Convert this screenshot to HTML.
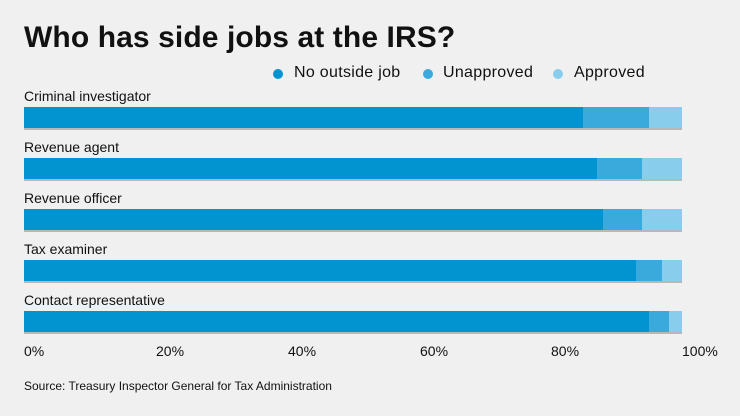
<!DOCTYPE html>
<html><head><style>
body{margin:0;width:740px;height:416px;background:#f0f0f0;font-family:"Liberation Sans",sans-serif;position:relative;overflow:hidden;color:#111}
.a{position:absolute;white-space:nowrap}
.t{left:24px;top:21px;font-size:30px;font-weight:bold;letter-spacing:0.1px}
.lg{top:64px;font-size:16px;letter-spacing:0.3px}
.dot{position:absolute;width:10px;height:10px;border-radius:50%;top:69px}
.lab{left:24px;font-size:14px}
.bar{position:absolute;left:24px;width:658px;height:21px;border-bottom:2px solid #b8b8b8;display:flex}
.bar div{height:21px}
.c1{background:#0293d1}.c2{background:#3aaadc}.c3{background:#89cdec}
.x{top:343px;font-size:14px}
</style></head><body>
<div class="a t">Who has side jobs at the IRS?</div>
<div class="dot c1" style="left:273px"></div><div class="a lg" style="left:294px">No outside job</div>
<div class="dot c2" style="left:423px"></div><div class="a lg" style="left:443px">Unapproved</div>
<div class="dot c3" style="left:553px"></div><div class="a lg" style="left:574px">Approved</div>

<div class="a lab" style="top:88px">Criminal investigator</div>
<div class="bar" style="top:107px"><div class="c1" style="width:559px"></div><div class="c2" style="width:66px"></div><div class="c3" style="width:33px"></div></div>
<div class="a lab" style="top:139px">Revenue agent</div>
<div class="bar" style="top:158px"><div class="c1" style="width:573px"></div><div class="c2" style="width:45px"></div><div class="c3" style="width:40px"></div></div>
<div class="a lab" style="top:190px">Revenue officer</div>
<div class="bar" style="top:209px"><div class="c1" style="width:579px"></div><div class="c2" style="width:39px"></div><div class="c3" style="width:40px"></div></div>
<div class="a lab" style="top:241px">Tax examiner</div>
<div class="bar" style="top:260px"><div class="c1" style="width:612px"></div><div class="c2" style="width:26px"></div><div class="c3" style="width:20px"></div></div>
<div class="a lab" style="top:292px">Contact representative</div>
<div class="bar" style="top:311px"><div class="c1" style="width:625px"></div><div class="c2" style="width:20px"></div><div class="c3" style="width:13px"></div></div>

<div class="a x" style="left:24px">0%</div>
<div class="a x" style="left:156px">20%</div>
<div class="a x" style="left:288px">40%</div>
<div class="a x" style="left:420px">60%</div>
<div class="a x" style="left:551px">80%</div>
<div class="a x" style="left:682px">100%</div>
<div class="a" style="left:24px;top:379px;font-size:12px">Source: Treasury Inspector General for Tax Administration</div>
</body></html>
